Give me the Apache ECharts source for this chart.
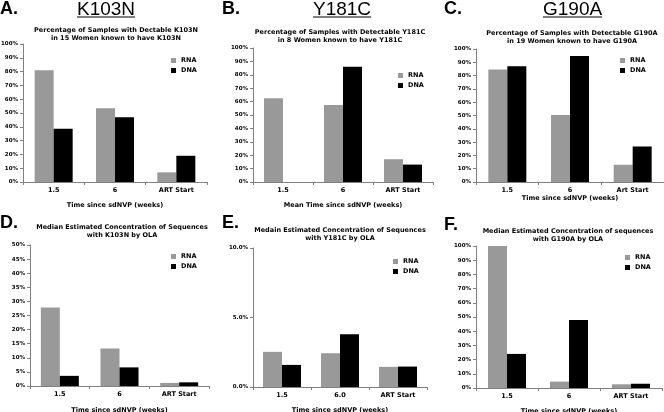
<!DOCTYPE html>
<html>
<head>
<meta charset="utf-8">
<script src="https://cdn.jsdelivr.net/npm/echarts@6/dist/echarts.min.js"></script>
<style>html,body{margin:0;padding:0;background:#fff;}#c{width:664px;height:412px;}</style>
</head>
<body>
<div id="c"></div>
<script>
// ---- data ----
const catsA = ['1.5', '6', 'ART Start'];
const catsB = ['1.5', '6', 'ART Start'];
const catsC = ['1.5', '6', 'Art Start'];
const catsD = ['1.5', '6', 'ART Start'];
const catsE = ['1.5', '6.0', 'ART Start'];
const catsF = ['1.5', '6', 'ART Start'];

const rnaA = [81, 53.5, 7];
const dnaA = [38.5, 47, 19];
const rnaB = [62.5, 57.5, 17];
const dnaB = [0, 86, 13];
const rnaC = [84.5, 50.3, 13];
const dnaC = [87, 94.7, 26.7];
const rnaD = [27.8, 13.3, 1.1];
const dnaD = [3.6, 6.6, 1.3];
const rnaE = [2.53, 2.43, 1.45];
const dnaE = [1.59, 3.8, 1.47];
const rnaF = [100, 4.5, 2.6];
const dnaF = [24, 47.8, 3];

const seriesNames = ['RNA', 'DNA'];
const letters = ['A.', 'B.', 'C.', 'D.', 'E.', 'F.'];
const mutations = ['K103N', 'Y181C', 'G190A'];
const titles = [
  'Percentage of Samples with Dectable K103N\nin 15 Women known to have K103N',
  'Percentage of Samples with Detectable Y181C\nin 8 Women known to have Y181C',
  'Percentage of Samples with Detectable G190A\nin 19 Women known to have G190A',
  'Median Estimated Concentration of Sequences\nwith K103N by OLA',
  'Medain Estimated Concentration of Sequences\nwith Y181C by OLA',
  'Median Estimated Concentration of sequences\nwith G190A by OLA'
];
const xNames = ['Time since sdNVP (weeks)', 'Mean Time since sdNVP (weeks)', 'Time since sdNVP (weeks)',
  'Time since sdNVP (weeks)', 'Time since sdNVP (weeks)', 'Time since sdNVP (weeks)'];
const yMax = [100, 100, 100, 50, 10, 100];
const yStep = [10, 10, 10, 5, 5, 10];
const yDecimals = [0, 0, 0, 0, 1, 0];

// ---- layout ----
const panels = [
  {cats: catsA, rna: rnaA, dna: dnaA, grid: {left: 23, top: 44, width: 184, height: 138}, title: [116, 26], legend: [171, 57], nameGap: 20},
  {cats: catsB, rna: rnaB, dna: dnaB, grid: {left: 253, top: 48, width: 180, height: 134}, title: [340, 28], legend: [398, 72], nameGap: 20},
  {cats: catsC, rna: rnaC, dna: dnaC, grid: {left: 476, top: 49, width: 188, height: 133}, title: [572, 29], legend: [620, 57], nameGap: 11},
  {cats: catsD, rna: rnaD, dna: dnaD, grid: {left: 30, top: 245, width: 179, height: 141}, title: [122, 223], legend: [171, 253], nameGap: 21},
  {cats: catsE, rna: rnaE, dna: dnaE, grid: {left: 253, top: 248, width: 174, height: 139}, title: [340, 226], legend: [393, 258], nameGap: 20},
  {cats: catsF, rna: rnaF, dna: dnaF, grid: {left: 476, top: 246, width: 186, height: 142}, title: [568, 227], legend: [625, 254], nameGap: 20}
];
const letterPos = [[0, 0], [222, 0], [444, 0], [0, 214], [222, 214], [444, 216]];
const mutPos = [[77, 0], [313, 0], [543, 0]];

const small = {fontFamily: 'DejaVu Sans', fontWeight: 'bold', fontSize: 6.5, color: '#000'};
const axisCol = '#808080';

const grid = [], xAxis = [], yAxis = [], series = [], title = [], legend = [], graphic = [];
panels.forEach((p, i) => {
  grid.push(Object.assign({containLabel: false, outerBoundsMode: 'none'}, p.grid));
  xAxis.push({
    type: 'category', gridIndex: i, data: p.cats,
    name: xNames[i], nameLocation: 'middle', nameGap: p.nameGap,
    nameTextStyle: small,
    axisLine: {lineStyle: {color: axisCol, width: 1}},
    axisTick: {show: true, length: 3, lineStyle: {color: axisCol}},
    axisLabel: Object.assign({margin: 5, interval: 0}, small),
    splitLine: {show: false}
  });
  yAxis.push({
    type: 'value', gridIndex: i, min: 0, max: yMax[i], interval: yStep[i],
    axisLine: {show: true, lineStyle: {color: axisCol, width: 1}},
    axisTick: {show: true, length: 3, lineStyle: {color: axisCol}},
    axisLabel: Object.assign({margin: 5, formatter: v => v.toFixed(yDecimals[i]) + '%'}, small, {fontSize: 5.5}),
    splitLine: {show: false}
  });
  series.push({type: 'bar', name: seriesNames[0], xAxisIndex: i, yAxisIndex: i, data: p.rna,
    barWidth: 19, barGap: '0%', itemStyle: {color: '#999999'}});
  series.push({type: 'bar', name: seriesNames[1], xAxisIndex: i, yAxisIndex: i, data: p.dna,
    barWidth: 19, barGap: '0%', itemStyle: {color: '#000000'}});
  title.push({text: titles[i], left: p.title[0], top: p.title[1], textAlign: 'center', padding: 0,
    textStyle: Object.assign({lineHeight: 8.5}, small)});
  legend.push({data: seriesNames, orient: 'vertical', left: p.legend[0], top: p.legend[1],
    padding: 0, itemWidth: 5, itemHeight: 5, itemGap: 3, itemTextGap: 2, icon: 'rect',
    textStyle: small, selectedMode: false});
  title.push({text: letters[i], left: letterPos[i][0], top: letterPos[i][1], padding: 0,
    textStyle: {fontFamily: 'Liberation Sans', fontWeight: 'bold', fontSize: 18, color: '#000'}});
});
mutations.forEach((m, i) => {
  title.push({text: m, left: mutPos[i][0], top: mutPos[i][1], padding: 0,
    textStyle: {fontFamily: 'Liberation Sans', fontWeight: 'normal', fontSize: 19, color: '#000'}});
});

const chart = echarts.init(document.getElementById('c'), null, {renderer: 'canvas'});
chart.setOption({animation: false, backgroundColor: '#fff', grid, xAxis, yAxis, series, title, legend});

// underline the mutation headings, measured from the text width
const ctx = document.createElement('canvas').getContext('2d');
ctx.font = 'normal 19px "Liberation Sans"';
mutations.forEach((m, i) => {
  const w = ctx.measureText(m).width;
  graphic.push({type: 'line', shape: {x1: mutPos[i][0], y1: 17, x2: mutPos[i][0] + w, y2: 17},
    style: {stroke: '#000', lineWidth: 1}});
});
chart.setOption({graphic});
</script>
</body>
</html>
